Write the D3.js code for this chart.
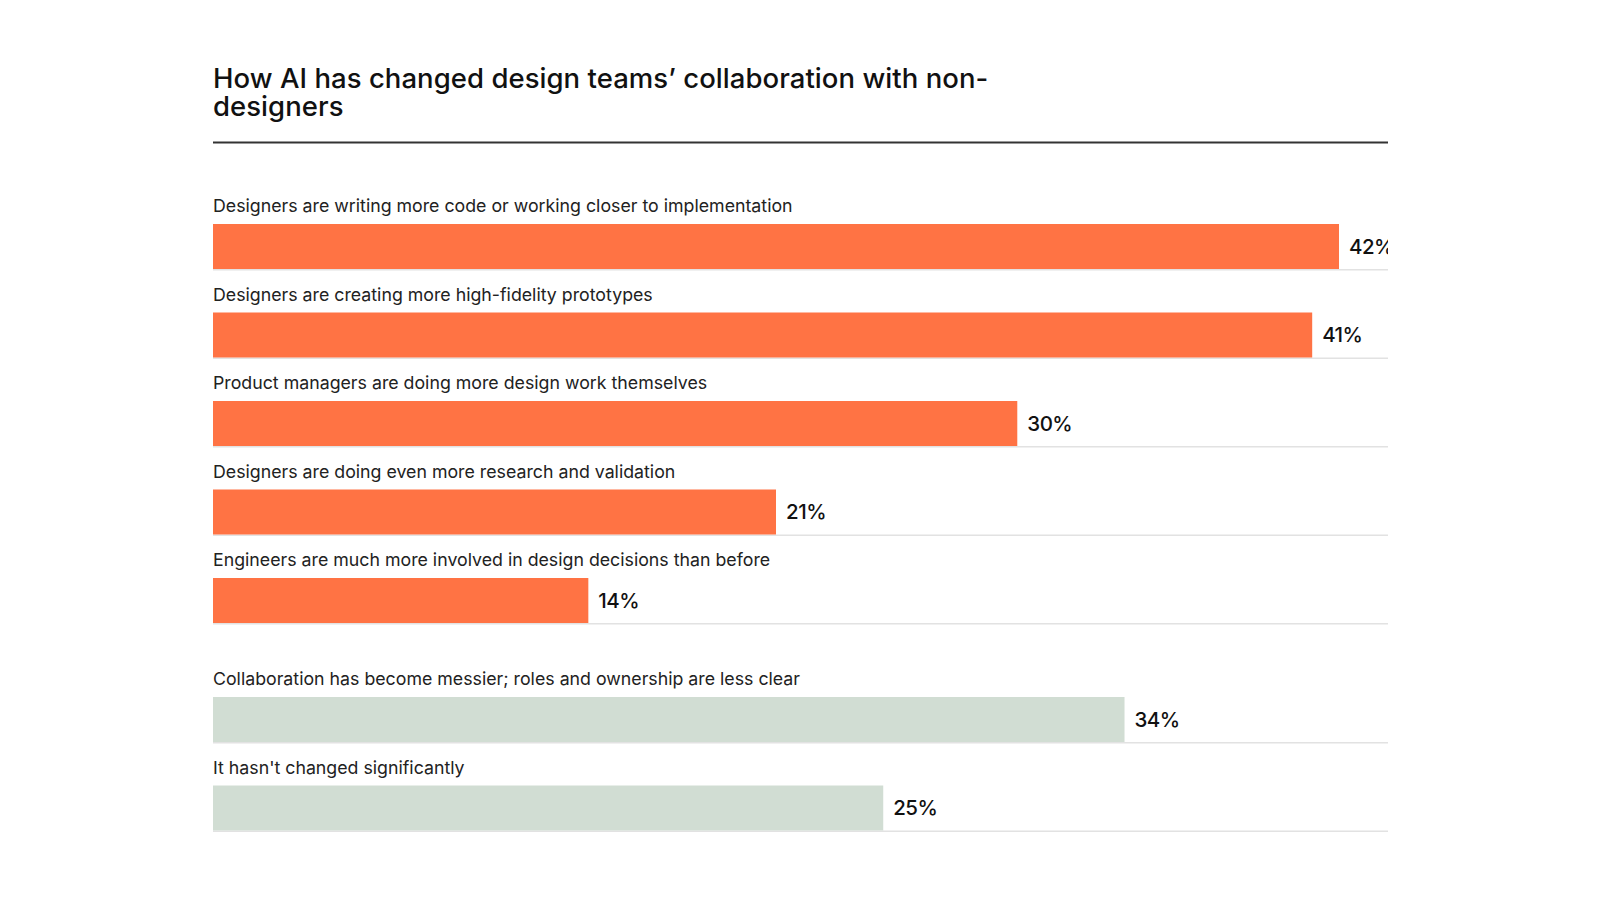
<!DOCTYPE html>
<html>
<head>
<meta charset="utf-8">
<script src="https://cdn.jsdelivr.net/npm/d3@7"></script>
<style>
  body { margin: 0; background: #fff; }
  svg { display: block; }
</style>
</head>
<body>
<svg id="chart" width="1600" height="900"></svg>
<script>

var titleLines = ["How AI has changed design teams\u2019 collaboration with non-", "designers"];

var categories = [
    "Designers are writing more code or working closer to implementation",
    "Designers are creating more high-fidelity prototypes",
    "Product managers are doing more design work themselves",
    "Designers are doing even more research and validation",
    "Engineers are much more involved in design decisions than before",
    "Collaboration has become messier; roles and ownership are less clear",
    "It hasn't changed significantly"
];
var values = [42, 41, 30, 21, 14, 34, 25];
var groups = [0, 0, 0, 0, 0, 1, 1];   // 0 = positive change, 1 = other

var left = 213, right = 1388, barEnd = 1339;
var barHeight = 45, rowStep = 88.5, groupGap = 30.5, firstTop = 224;

var svg = d3.select("#chart");

var x = d3.scaleLinear()
    .domain([0, d3.max(values)])
    .range([left, barEnd]);

var color = d3.scaleOrdinal()
    .domain([0, 1])
    .range(["#FF7344", "#D1DDD3"]);

function rowTop(i) {
    return firstTop + i * rowStep + groups[i] * groupGap;
}

// title
svg.append("g").selectAll("text")
    .data(titleLines)
    .enter().append("text")
    .attr("x", left)
    .attr("y", function(d, i) { return 87.5 + i * 28.5; })
    .style("font-family", "Inter, 'Noto Sans', sans-serif")
    .style("font-size", "27.5px")
    .style("font-weight", 500)
    .style("letter-spacing", "0.05px")
    .style("fill", "#111")
    .text(function(d) { return d; });

svg.append("line")
    .attr("x1", left).attr("x2", right)
    .attr("y1", 142.5).attr("y2", 142.5)
    .style("stroke", "#333")
    .style("stroke-width", 2);

svg.append("clipPath").attr("id", "plotClip")
    .append("rect")
    .attr("x", left).attr("y", 0)
    .attr("width", right - left).attr("height", 900);

var rows = svg.append("g")
    .attr("clip-path", "url(#plotClip)")
    .selectAll("g.row")
    .data(values)
    .enter().append("g")
    .attr("class", "row")
    .attr("transform", function(d, i) { return "translate(0," + rowTop(i) + ")"; });

// baseline track
rows.append("line")
    .attr("x1", left).attr("x2", right)
    .attr("y1", barHeight + 0.75).attr("y2", barHeight + 0.75)
    .style("stroke", "#E2E2E2")
    .style("stroke-width", 1.5);

rows.append("rect")
    .attr("x", x(0))
    .attr("y", 0)
    .attr("width", function(d) { return x(d) - x(0); })
    .attr("height", barHeight)
    .style("fill", function(d, i) { return color(groups[i]); });

rows.append("text")
    .attr("x", left)
    .attr("y", -12)
    .style("font-family", "Inter, 'Noto Sans', sans-serif")
    .style("font-size", "17.75px")
    .style("fill", "#222")
    .text(function(d, i) { return categories[i]; });

rows.append("text")
    .attr("x", function(d) { return x(d) + 10; })
    .attr("y", barHeight / 2)
    .attr("dy", "0.35em")
    .style("font-family", "Inter, 'Noto Sans', sans-serif")
    .style("font-size", "20.5px")
    .style("font-weight", 500)
    .style("letter-spacing", "-0.5px")
    .style("fill", "#111")
    .text(function(d) { return d + "%"; });

</script>
</body>
</html>
